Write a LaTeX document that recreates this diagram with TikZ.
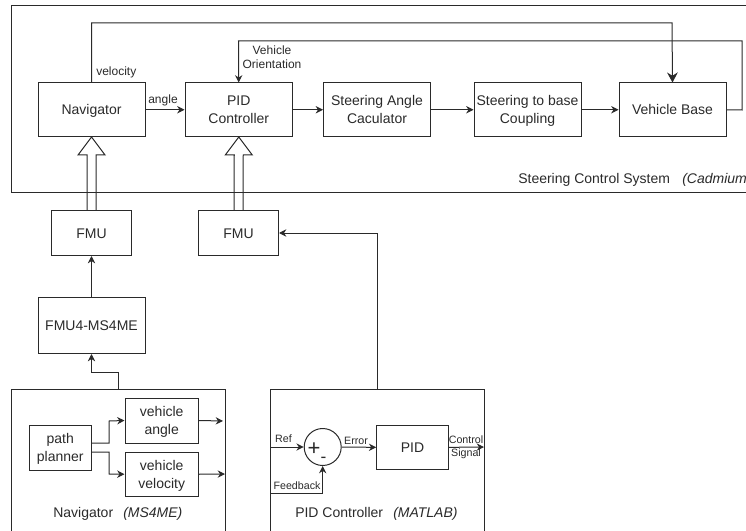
\documentclass[tikz,border=0pt]{standalone}
\usepackage{fontspec}
\setmainfont{Liberation Sans}
\usetikzlibrary{arrows.meta,calc}
\definecolor{ink}{HTML}{2A2A2A}
\tikzset{
  boxed/.style={draw=ink,line width=0.75pt,rectangle,inner sep=0pt,align=center,text=ink,font=\fontsize{10.5pt}{13.5pt}\selectfont},
  wire/.style={draw=ink,line width=0.75pt,-{Stealth[length=5.5pt,width=5.5pt]}},
  bigwire/.style={draw=ink,line width=0.75pt,-{Stealth[length=7.5pt,width=8pt]}},
  hollow/.style={draw=ink,line width=0.75pt},
  lab/.style={inner sep=0pt,align=center,text=ink,font=\fontsize{9pt}{10.5pt}\selectfont},
  tinylab/.style={inner sep=0pt,align=center,text=ink,font=\fontsize{8pt}{9.5pt}\selectfont},
  captext/.style={inner sep=0pt,text=ink,font=\fontsize{10.5pt}{13pt}\selectfont},
}
\newcommand{\pxbox}[6]{\node[boxed,minimum width={(#4-#2)*0.75pt},minimum height={(#5-#3)*0.75pt}] (#1) at ({(#2+#4)/2},{(#3+#5)/2}) {\vbox{\kern2.2pt\hbox{\begin{tabular}{@{}c@{}}#6\end{tabular}}}};}
\newcommand{\hollowup}[2]{% from node #1 (top) to node #2 (bottom)
  \draw[hollow] ($(#1.north)+(-4.5,0)$) -- ($(#2.south)+(-4.5,18)$) -- ($(#2.south)+(-13.5,18)$) -- (#2.south) -- ($(#2.south)+(13.5,18)$) -- ($(#2.south)+(4.5,18)$) -- ($(#1.north)+(4.5,0)$);}
\begin{document}
\begin{tikzpicture}[x=0.75pt,y=-0.75pt]
\useasboundingbox (0,0) rectangle (746,531);
% containers
\pxbox{cadm}{11.5}{5.5}{770}{193}{}
\pxbox{ms}{11.5}{389.5}{225}{570}{}
\pxbox{mat}{270}{389.5}{484}{570}{}
% steering system
\pxbox{nav}{38}{83}{145}{136.5}{Navigator}
\pxbox{pidc}{185}{83}{292.5}{136.5}{PID\\Controller}
\pxbox{sac}{323.5}{83}{430.5}{136.5}{Steering Angle\\Caculator}
\pxbox{sbc}{474}{83}{581}{136.5}{Steering to base\\Coupling}
\pxbox{vb}{619}{83}{726}{136.5}{Vehicle Base}
% FMUs
\pxbox{fmua}{51.5}{210.5}{131.5}{255.5}{FMU}
\pxbox{fmub}{198.5}{210.5}{278.5}{255.5}{FMU}
\pxbox{fmums}{38}{297}{145}{353.5}{FMU4-MS4ME}
% navigator internals
\pxbox{pp}{29}{425}{91.5}{470}{path\\planner}
\pxbox{va}{125}{398}{198.5}{443}{vehicle\\angle}
\pxbox{vv}{125}{452}{198.5}{496.5}{vehicle\\velocity}
% pid internals
\node[draw=ink,line width=0.75pt,circle,minimum size=27.75pt,inner sep=0pt] (sum) at (322.7,447) {};
\pxbox{pidb}{376.7}{425}{448.3}{469.7}{PID}
% coordinates
\coordinate (ra) at (742,110);
\coordinate (rb) at (742,41);
\coordinate (ta) at (91.5,23);
\coordinate (tb) at (672,23);
\coordinate (la) at (238.5,41);
\coordinate (msup) at (118,389.5);
\coordinate (msmid) at (118,372);
\coordinate (msleft) at (91.5,372);
\coordinate (matup) at (377,389.5);
\coordinate (refin) at (270,447);
\coordinate (fbin) at (270,493.5);
\coordinate (vaout) at (223,421);
\coordinate (vvout) at (225,474);
\coordinate (ctl) at (484,447);
\coordinate (ppa) at (91.5,443);
\coordinate (ppb) at (91.5,452);
\coordinate (forka) at (109,421);
\coordinate (forkb) at (109,474);
% hollow arrows
\hollowup{fmua}{nav}
\hollowup{fmub}{pidc}
% connectors
\draw[wire] (nav.east) -- (pidc.west);
\draw[wire] (pidc.east) -- (sac.west);
\draw[wire] (sac.east) -- (sbc.west);
\draw[wire] (sbc.east) -- (vb.west);
\draw[bigwire] (nav.north) -- (ta) -- (tb) -- (vb.north);
\draw[wire] (vb.east) -- (ra) -- (rb) -- (la) -- (pidc.north);
\draw[wire] (fmums.north) -- (fmua.south);
\draw[wire] (msup) -- (msmid) -- (msleft) -- (fmums.south);
\draw[wire] (matup) |- (fmub.east);
\draw[wire] (ppa) -| (forka) -- (va.west);
\draw[wire] (ppb) -| (forkb) -- (vv.west);
\draw[wire] (va.east) -- (vaout);
\draw[wire] (vv.east) -- (vvout);
\draw[wire] (refin) -- (sum.west);
\draw[wire] (fbin) -| (sum.south);
\draw[wire] (sum.east) -- (pidb.west);
\draw[wire] (pidb.east) -- (ctl);
% labels
\node[lab,anchor=west] at (96,72.5) {velocity};
\node[lab] at (163,100.5) {angle};
\node[lab] at (272,57) {Vehicle\\Orientation};
\node[captext,anchor=base west] at (518,184) {Steering Control System};
\node[captext,anchor=base west] at (682,184) {\itshape (Cadmium};
\node[captext,anchor=base west] at (53,517) {Navigator};
\node[captext,anchor=base west] at (123,517) {\itshape (MS4ME)};
\node[captext,anchor=base west] at (295,517) {PID Controller};
\node[captext,anchor=base west] at (393,517) {\itshape (MATLAB)};
\node[tinylab] at (283.5,439) {Ref};
\node[tinylab] at (297,486) {Feedback};
\node[tinylab] at (356,440.5) {Error};
\node[tinylab] at (466,447.5) {Control\\Signal};
\node[inner sep=0pt,text=ink,font=\fontsize{16.5pt}{16.5pt}\selectfont] at (314,449) {+};
\node[inner sep=0pt,text=ink,font=\fontsize{13pt}{13pt}\selectfont] at (323.5,460) {-};
\end{tikzpicture}
\end{document}
